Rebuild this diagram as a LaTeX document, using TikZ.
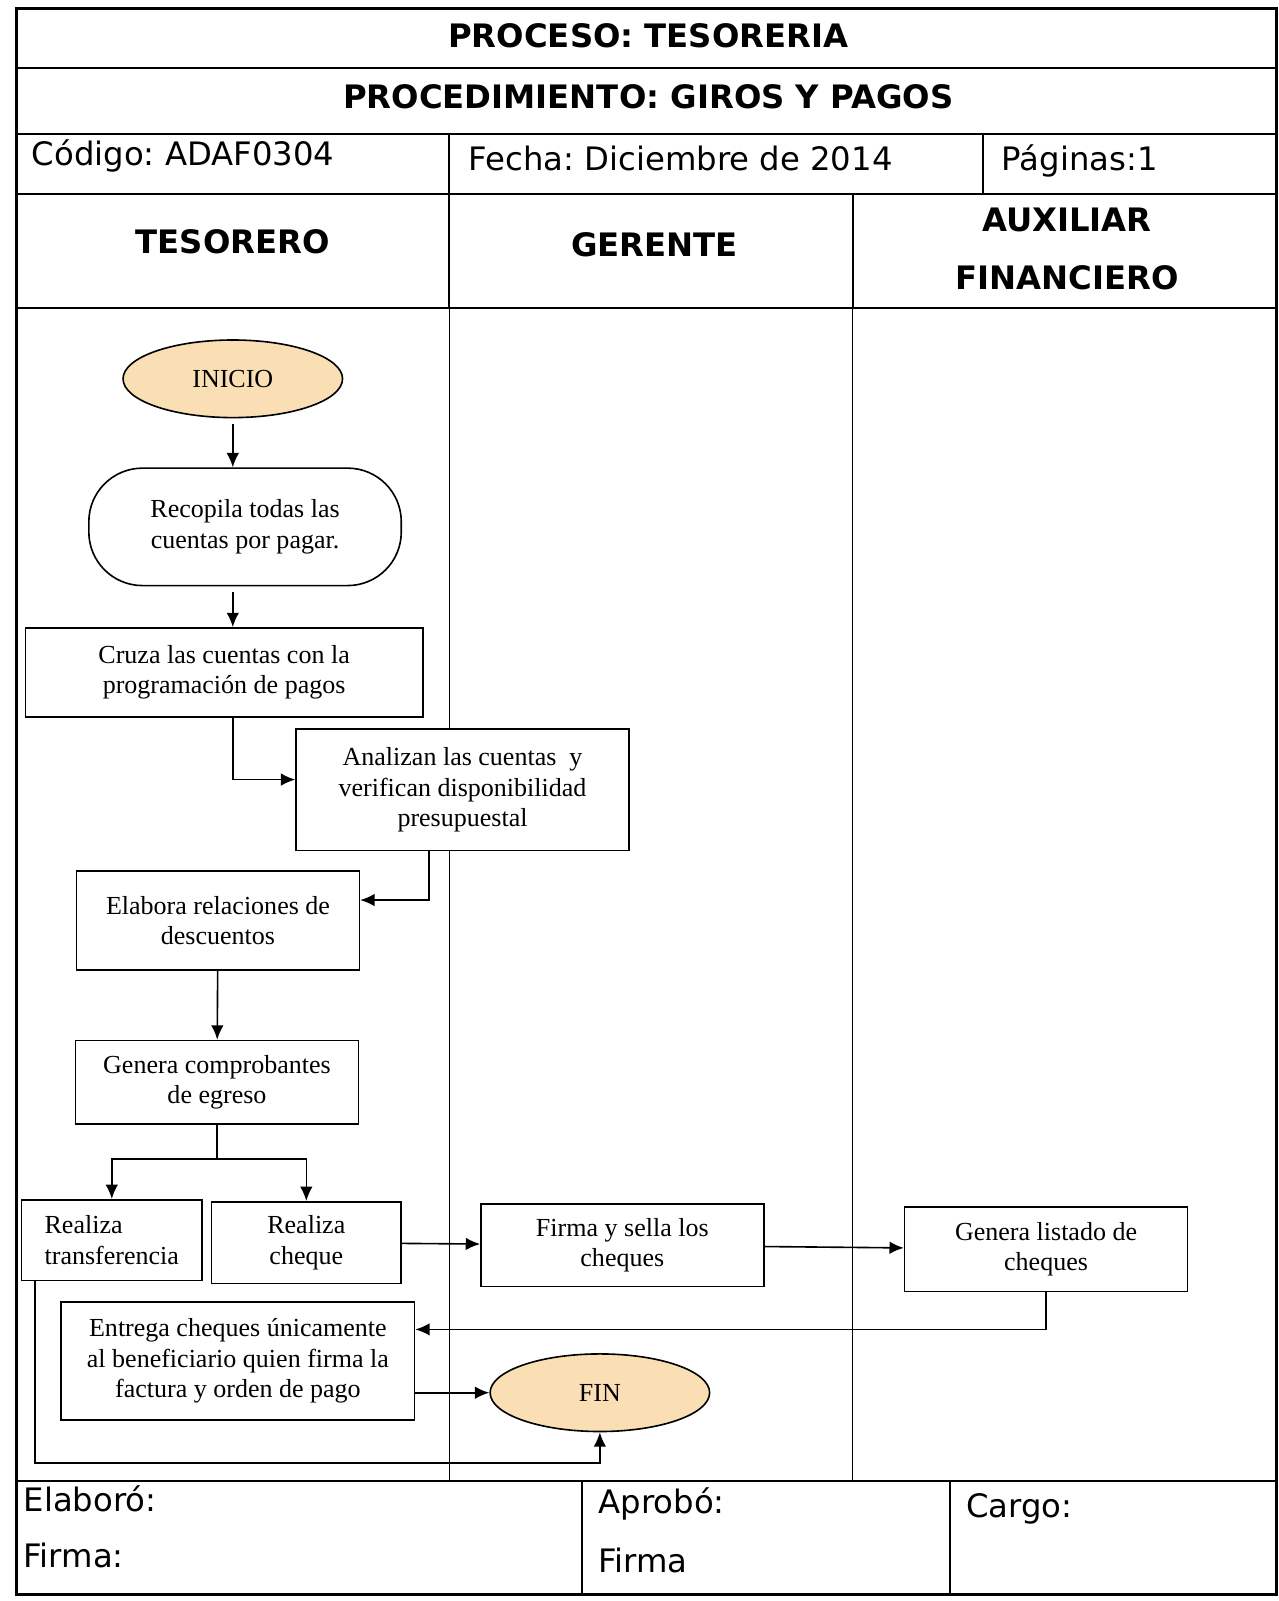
\documentclass[tikz,border=0pt]{standalone}
\usepackage{fontspec}
\setmainfont{Liberation Serif}
\newfontfamily\titfont{DejaVu Sans}
\usetikzlibrary{positioning,calc,arrows.meta,shapes.geometric}
\definecolor{crema}{RGB}{250,222,180}
\frenchspacing
\tikzset{
	caja/.style={draw, fill=white, line width=0.9pt, align=center, inner sep=2pt,
		font=\fontsize{14.5}{17}\selectfont},
	term/.style={ellipse, draw, fill=crema, line width=0.9pt, minimum width=4.3cm,
		minimum height=1.52cm, font=\fontsize{14.5}{17}\selectfont},
	flecha/.style={-{Latex[length=8pt,width=7pt]}, line width=0.9pt},
	cab/.style={font=\titfont\bfseries\fontsize{18}{22}\selectfont},
	dato/.style={anchor=west, font=\titfont\fontsize{18}{22}\selectfont},
}

\begin{document}
\begin{tikzpicture}
	\useasboundingbox (0,0) rectangle (25.04,-31.36);

	% tabla: marco, filas y columnas
	\draw[line width=1.6pt] (0.32,-0.16) rectangle (25.0,-31.24);
	\foreach \y in {-1.34,-2.62,-3.8,-6.04,-29.0}
		\draw[line width=1.1pt] (0.32,\y) -- (25.0,\y);
	\draw[line width=1.1pt] (8.8,-2.62) -- (8.8,-6.04);
	\draw[line width=1.1pt] (19.26,-2.62) -- (19.26,-3.8);
	\draw[line width=1.1pt] (16.7,-3.8) -- (16.7,-6.04);
	\draw[line width=0.7pt] (8.8,-6.04) -- (8.8,-29.0);
	\draw[line width=0.7pt] (16.7,-6.04) -- (16.7,-29.0);
	\draw[line width=1.1pt] (11.4,-29.0) -- (11.4,-31.24);
	\draw[line width=1.1pt] (18.6,-29.0) -- (18.6,-31.24);

	% encabezado
	\node[cab] (proceso) at (12.7,-0.7) {PROCESO: TESORERIA};
	\node[cab] (proced) at (12.7,-1.9) {PROCEDIMIENTO: GIROS Y PAGOS};
	\node[dato] (codigo) at (0.5,-3.06) {Código: ADAF0304};
	\node[dato] (fecha) at (9.06,-3.1) {Fecha: Diciembre de 2014};
	\node[dato] (paginas) at (19.5,-3.16) {Páginas:1};
	\node[cab] (tesorero) at (4.56,-4.74) {TESORERO};
	\node[cab] (gerente) at (12.82,-4.8) {GERENTE};
	\node[cab] (auxiliar) at (20.9,-4.3) {AUXILIAR};
	\node[cab] (financiero) at (20.9,-5.44) {FINANCIERO};

	% pie
	\node[dato] (elaboro) at (0.34,-29.36) {Elaboró:};
	\node[dato] (firma1) at (0.34,-30.46) {Firma:};
	\node[dato] (aprobo) at (11.6,-29.46) {Aprobó:};
	\node[dato] (firma2) at (11.6,-30.56) {Firma};
	\node[dato] (cargo) at (18.8,-29.56) {Cargo:};

	% pasos del procedimiento
	\node[term] (inicio) at (4.56,-7.42) {INICIO};
	\node[caja, rounded corners=1.05cm, minimum width=6.12cm, minimum height=2.3cm]
		(recopila) at (4.8,-10.32) {Recopila todas las\\cuentas por pagar.};
	\node[caja, minimum width=7.78cm, minimum height=1.74cm]
		(cruza) at (4.39,-13.17) {Cruza las cuentas con la\\programación de pagos};
	\node[caja, minimum width=6.52cm, minimum height=2.38cm]
		(analiza) at (9.06,-15.47) {Analizan las cuentas\ \ y\\verifican disponibilidad\\presupuestal};
	\node[caja, minimum width=5.54cm, minimum height=1.94cm]
		(elabora) at (4.27,-18.03) {Elabora relaciones de\\descuentos};
	\node[caja, minimum width=5.54cm, minimum height=1.64cm]
		(genera) at (4.25,-21.2) {Genera comprobantes\\de egreso};
	\node[caja, align=left, minimum width=3.54cm, minimum height=1.58cm]
		(transf) at (2.19,-24.29) {Realiza\\transferencia};
	\node[caja, minimum width=3.72cm, minimum height=1.6cm]
		(cheque) at (6.0,-24.34) {Realiza\\cheque};
	\node[caja, minimum width=5.54cm, minimum height=1.62cm]
		(firma) at (12.19,-24.39) {Firma y sella los\\cheques};
	\node[caja, minimum width=5.54cm, minimum height=1.66cm]
		(listado) at (20.49,-24.47) {Genera listado de\\cheques};
	\node[caja, minimum width=6.92cm, minimum height=2.32cm]
		(entrega) at (4.66,-26.66) {Entrega cheques únicamente\\al beneficiario quien firma la\\factura y orden de pago};
	\node[term] (fin) at (11.75,-27.28) {FIN};

	\coordinate (split) at (4.25,-22.7);

	% conectores
	\draw[flecha, shorten <=3pt] (inicio.south) -- (inicio.south |- recopila.north);
	\draw[flecha, shorten <=3pt] (recopila.south -| inicio) -- (cruza.north -| inicio);
	\draw[flecha] (cruza.south -| inicio) |- ([yshift=0.2cm]analiza.west);
	\draw[flecha] ([xshift=-0.66cm]analiza.south) |- ([yshift=0.4cm]elabora.east);
	\draw[flecha] (elabora) -- (genera);
	\draw[line width=0.9pt] (genera) -- (split);
	\draw[flecha] (split) -| (transf);
	\draw[flecha] (split) -| (cheque);
	\draw[flecha] (cheque) -- (firma);
	\draw[flecha] (firma) -- (listado);
	\draw[flecha] (listado.south) |- ([yshift=0.62cm]entrega.east);
	\draw[flecha] (entrega.east |- fin.west) -- (fin.west);
	\draw[flecha] ([xshift=0.28cm]transf.south west) |- ([yshift=-0.6cm]fin.south) -- (fin.south);
\end{tikzpicture}
\end{document}
